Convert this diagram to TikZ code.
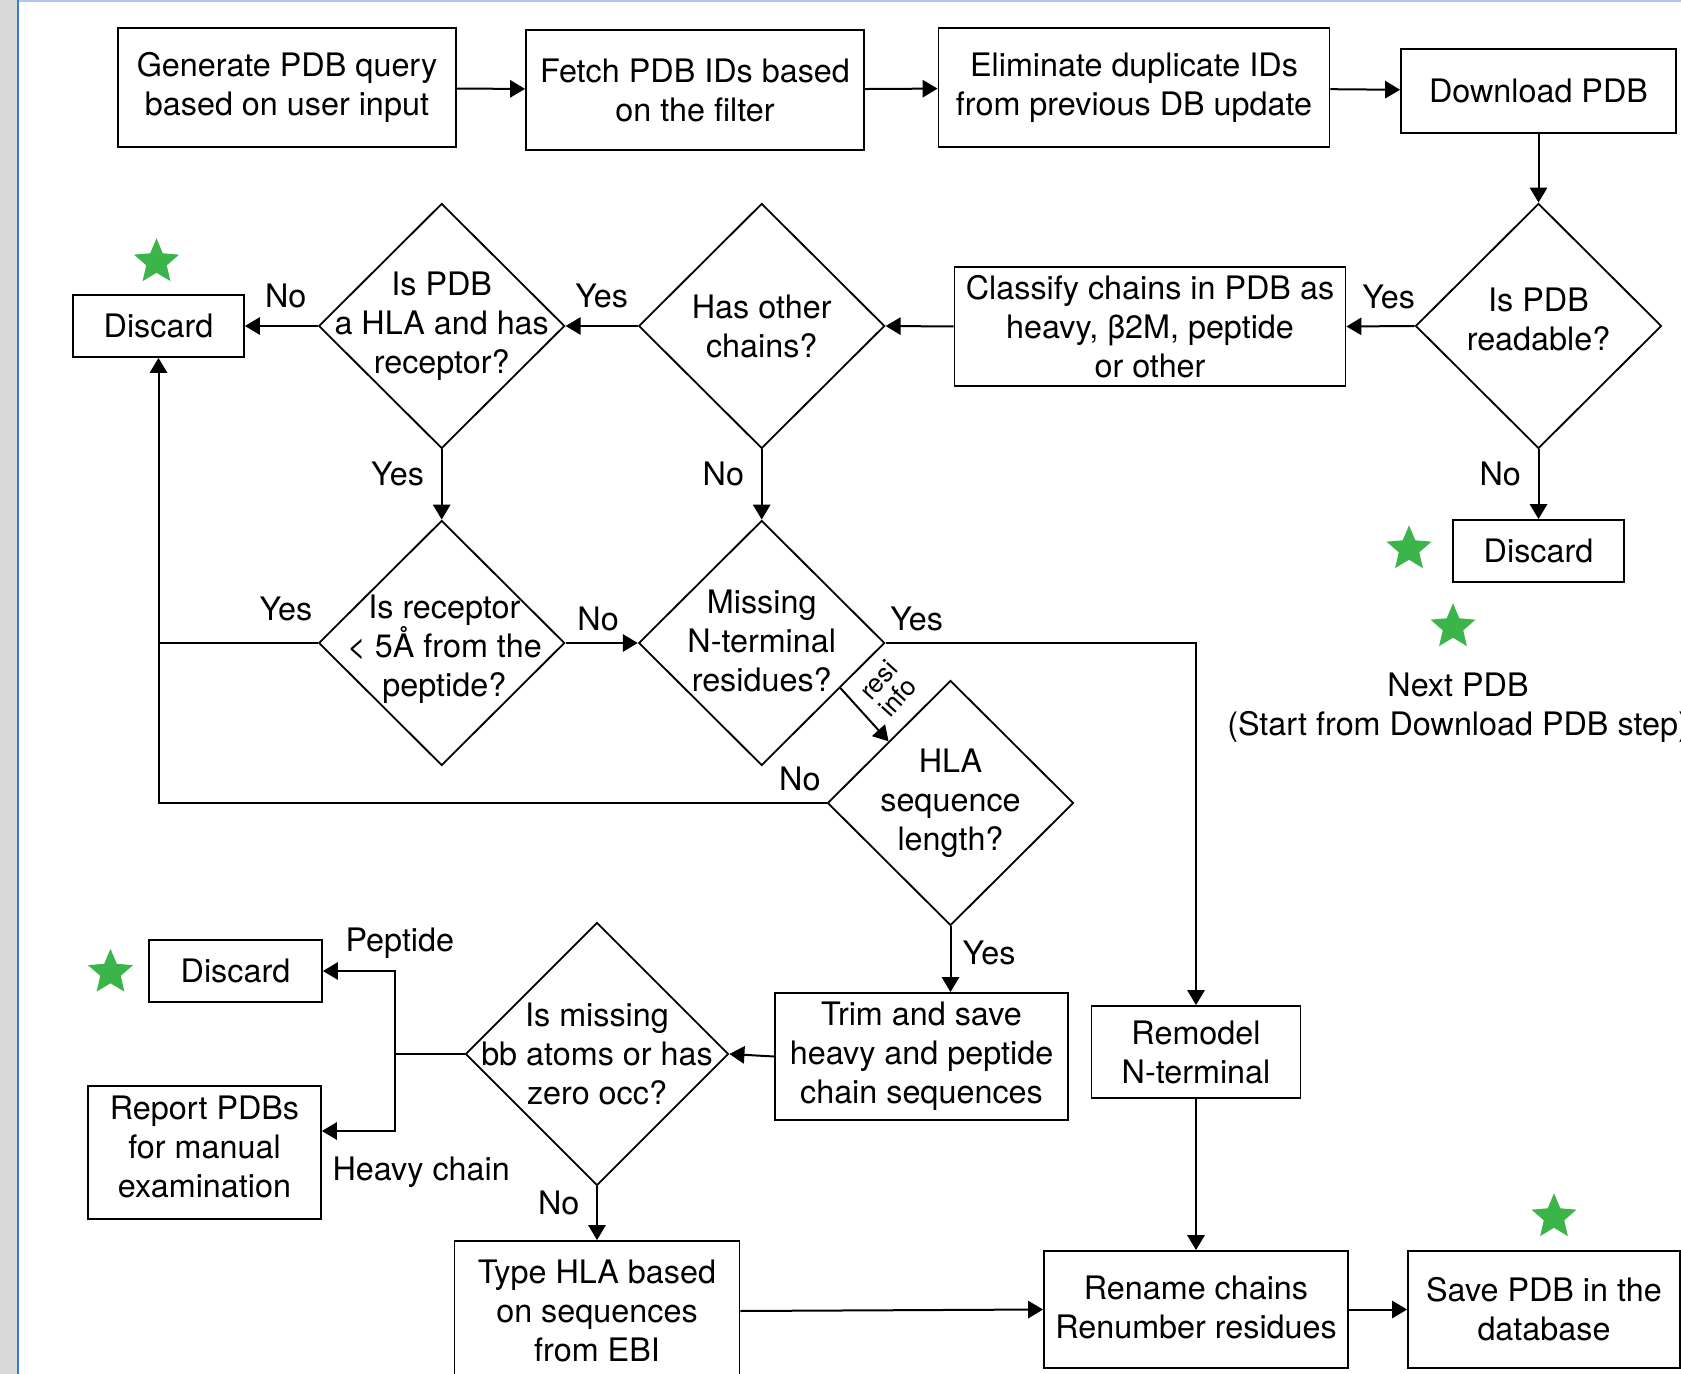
\documentclass[tikz,border=0pt]{standalone}
\usepackage{fontspec}
\setmainfont{TeX Gyre Heros}
\usetikzlibrary{shapes.geometric,arrows.meta,calc}

\definecolor{stargreen}{RGB}{59,181,74}
\definecolor{barblue}{RGB}{60,120,216}
\definecolor{edgeblue}{RGB}{176,200,240}
\definecolor{bargray}{RGB}{218,218,218}

\begin{document}
\begin{tikzpicture}[x=0.3pt, y=-0.3pt,
  every node/.style={font=\fontsize{9.7}{11.7}\selectfont},
  box/.style={draw, rectangle, align=center, line width=0.55pt, inner sep=2pt},
  dec/.style={draw, diamond, line width=0.55pt, inner sep=0pt, minimum width=73.8pt, minimum height=73.5pt},
  dtext/.style={align=center, inner sep=0pt},
  greenstar/.style={star, star points=5, star point ratio=2.2, fill=stargreen, draw=none, minimum size=14.2pt, inner sep=0pt},
  arr/.style={-{Triangle[length=4.5pt,width=5.2pt]}, line width=0.6pt},
  con/.style={line width=0.6pt},
  lab/.style={inner sep=5pt}]
\useasboundingbox (0,0) rectangle (1681,1374);
\fill[white] (0,0) rectangle (1681,1374);
\fill[bargray] (0,0) rectangle (16.5,1374);
\fill[barblue] (16.5,0) rectangle (19,1374);
\draw[edgeblue, line width=0.6pt] (19,1) -- (1681,1);

\node[box, minimum width=101.4pt, minimum height=35.7pt] (gen) at (287, 87.5) {Generate PDB query\\based on user input};
\node[box, minimum width=101.4pt, minimum height=36pt] (fetch) at (695, 90) {Fetch PDB IDs based\\on the filter};
\node[box, minimum width=117.3pt, minimum height=35.7pt] (elim) at (1134, 87.5) {Eliminate duplicate IDs\\from previous DB update};
\node[box, minimum width=82.5pt, minimum height=25.2pt] (download) at (1538.5, 91) {Download PDB};

\node[dec, label={[dtext, yshift=2pt]center:{Is PDB\\readable?}}] (readable) at (1538.5, 326) {};
\node[box, minimum width=117.3pt, minimum height=35.7pt] (classify) at (1150, 326.5) {Classify chains in PDB as\\heavy, β2M, peptide\\or other};
\node[dec, label={[dtext]center:{Has other\\chains?}}] (other) at (761.7, 326) {};
\node[dec, label={[dtext]center:{Is PDB\\a HLA and has\\receptor?}}] (hla) at (441.7, 326) {};
\node[box, minimum width=51.3pt, minimum height=18.6pt] (discard1) at (158.5, 326) {Discard};
\node[box, minimum width=51.3pt, minimum height=18.6pt] (discard2) at (1538.5, 551) {Discard};

\node[dec, label={[dtext, yshift=-2pt, xshift=0.8pt]center:{Is receptor\\< 5Å from the\\peptide?}}] (recep) at (441.7, 643) {};
\node[dec, label={[dtext, yshift=0.6pt]center:{Missing\\N-terminal\\residues?}}] (missing) at (761.7, 643) {};
\node[dec, label={[dtext]center:{HLA\\sequence\\length?}}] (seq) at (950.5, 803) {};

\node[box, minimum width=87.9pt, minimum height=38.1pt] (trim) at (921.5, 1056.5) {Trim and save\\heavy and peptide\\chain sequences};
\node[dec, minimum width=78.9pt, minimum height=78.9pt, label={[dtext]center:{Is missing\\bb atoms or has\\zero occ?}}] (bb) at (597, 1054) {};
\node[box, minimum width=62.7pt, minimum height=27.6pt] (remodel) at (1196, 1052) {Remodel\\N-terminal};
\node[box, minimum width=51.9pt, minimum height=18.6pt] (discard3) at (235.5, 971) {Discard};
\node[box, minimum width=69.9pt, minimum height=39.9pt] (report) at (204.5, 1152.5) {Report PDBs\\for manual\\examination\rule[-3.2pt]{0pt}{3.2pt}};
\node[box, minimum width=85.5pt, minimum height=42pt] (type) at (597, 1311) {Type HLA based\\on sequences\\from EBI};
\node[box, minimum width=91.2pt, minimum height=35.1pt] (rename) at (1196, 1309.5) {Rename chains\\Renumber residues\rule[-1.2pt]{0pt}{1.2pt}};
\node[box, minimum width=81.6pt, minimum height=35.1pt] (save) at (1544, 1309.5) {Save PDB in the\\database};

\node[greenstar] (star1) at (156.5, 262) {};
\node[greenstar] (star2) at (1409, 549) {};
\node[greenstar] (star3) at (1453, 627) {};
\node[greenstar] (star4) at (110.5, 972.5) {};
\node[greenstar] (star5) at (1554, 1217) {};
\node[align=center] (next) at (1458, 708) {Next PDB\\(Start from Download PDB step)};

\coordinate (jn) at (discard1.south |- recep.west);
\coordinate (br) at (394.5, 1054);

\draw[arr] (gen) -- (fetch);
\draw[arr] (fetch) -- (elim);
\draw[arr] (elim) -- (download);
\draw[arr] (download) -- (readable.north);
\draw[arr] (readable.west) -- node[lab, pos=0.38, above] {Yes} (classify.east);
\draw[arr] (readable.south) -- node[lab, pos=0.35, left] {No} (discard2.north);
\draw[arr] (classify.west) -- (other.east);
\draw[arr] (other.west) -- node[lab, midway, above] {Yes} (hla.east);
\draw[arr] (hla.west) -- node[lab, pos=0.44, above] {No} (discard1.east);
\draw[arr] (hla.south) -- node[lab, pos=0.35, left] {Yes} (recep.north);
\draw[arr] (other.south) -- node[lab, pos=0.35, left] {No} (missing.north);
\draw[arr] (recep.west) -| node[pos=0.1, above=2.9pt] {Yes} (discard1.south);
\draw[arr] (recep.east) -- node[pos=0.45, above] {No} (missing.west);
\draw[arr] (missing.east) -| node[pos=0.05, above] {Yes} (remodel.north);
\draw[arr] ($(missing.east)!0.365!(missing.south)$) -- node[midway, rotate=48, anchor=west, align=center, inner sep=4pt, font=\fontsize{7.8}{7.8}\selectfont] {resi\\info} ($(seq.west)!0.5!(seq.north)$);
\draw[con] (seq.west) -| node[pos=0.02, above] {No} (jn);
\draw[arr] (seq.south) -- node[pos=0.4, right] {Yes} (seq.south |- trim.north);
\draw[arr] (trim.west) -- (bb.east);
\draw[con] (bb.west) -- (br);
\draw[arr] (br) |- node[pos=0.5, above, xshift=1.6pt] {Peptide} (discard3.east);
\draw[arr] (br) |- node[pos=0.5, below=4pt, xshift=8pt] {Heavy chain} ([yshift=6.45pt]report.east);
\draw[arr] (bb.south) -- node[lab, pos=0.3, left] {No} (type.north);
\draw[arr] (type.east) -- (rename.west);
\draw[arr] (remodel.south) -- (rename.north);
\draw[arr] (rename.east) -- (save.west);
\end{tikzpicture}
\end{document}
